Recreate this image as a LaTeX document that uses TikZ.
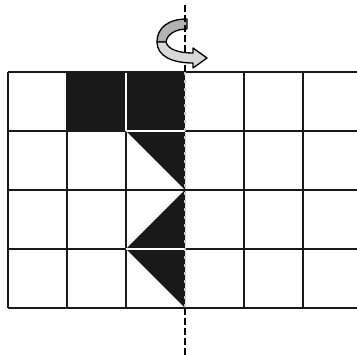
\documentclass[tikz,border=0pt]{standalone}
\usepackage{tikz}
\usetikzlibrary{positioning}

\begin{document}
\begin{tikzpicture}[x=1pt, y=-1pt,
	gridline/.style={line width=1.5pt, black!90},
	gapline/.style={line width=1.5pt, white},
	axisline/.style={line width=2.6pt, black, dash pattern=on 7pt off 3pt},
	axisdots/.style={line width=1.4pt, gray!45, dash pattern=on 3pt off 5pt},
	ribbon/.style={draw=black, line width=1.3pt, line join=round}]
	\useasboundingbox (0,0) rectangle (357,355);
	% Axis end points:
	\coordinate (axtop) at (185,5);
	\coordinate (axgridtop) at (185,72);
	\coordinate (axgridbot) at (185,308);
	\coordinate (axbot) at (185,355);
	% Black cells and triangles:
	\fill[black!90] (67,72) rectangle (185,131);
	\fill[black!90] (126,131) -- (185,131) -- (185,190) -- cycle;
	\fill[black!90] (185,190) -- (185,249) -- (126,249) -- cycle;
	\fill[black!90] (126,249) -- (185,249) -- (185,308) -- cycle;
	% Grid:
	\foreach \i in {0,1,2,4,5,6}
		\draw[gridline] (8+59*\i,72) -- (8+59*\i,308);
	\foreach \j in {0,...,4}
		\draw[gridline] (8,72+59*\j) -- (362,72+59*\j);
	% Lines across the black parts:
	\draw[gapline] (126,72.8) -- (126,131);
	\draw[gapline] (126,131) -- (185,131);
	\draw[gapline] (126,249) -- (185,249);
	% Axis:
	\draw[axisdots] (axgridtop) -- (axgridbot);
	\draw[axisline] (axgridbot) -- (axbot);
	% Back of the turning arrow:
	\draw[ribbon, fill=gray!60] (187,19) .. controls (168,19) and (157,28) .. (157,42)
		-- (166,42) .. controls (167,34) and (176,29) .. (187,29) -- cycle;
	\draw[axisline] (axtop) -- (axgridtop);
	% Front of the turning arrow:
	\draw[ribbon, fill=gray!30] (157,42) .. controls (157,56) and (172,63) .. (193,63)
		-- (193,68) -- (207,58) -- (193,48) -- (193,53)
		.. controls (180,53) and (168,50) .. (166,42) -- cycle;
\end{tikzpicture}
\end{document}
